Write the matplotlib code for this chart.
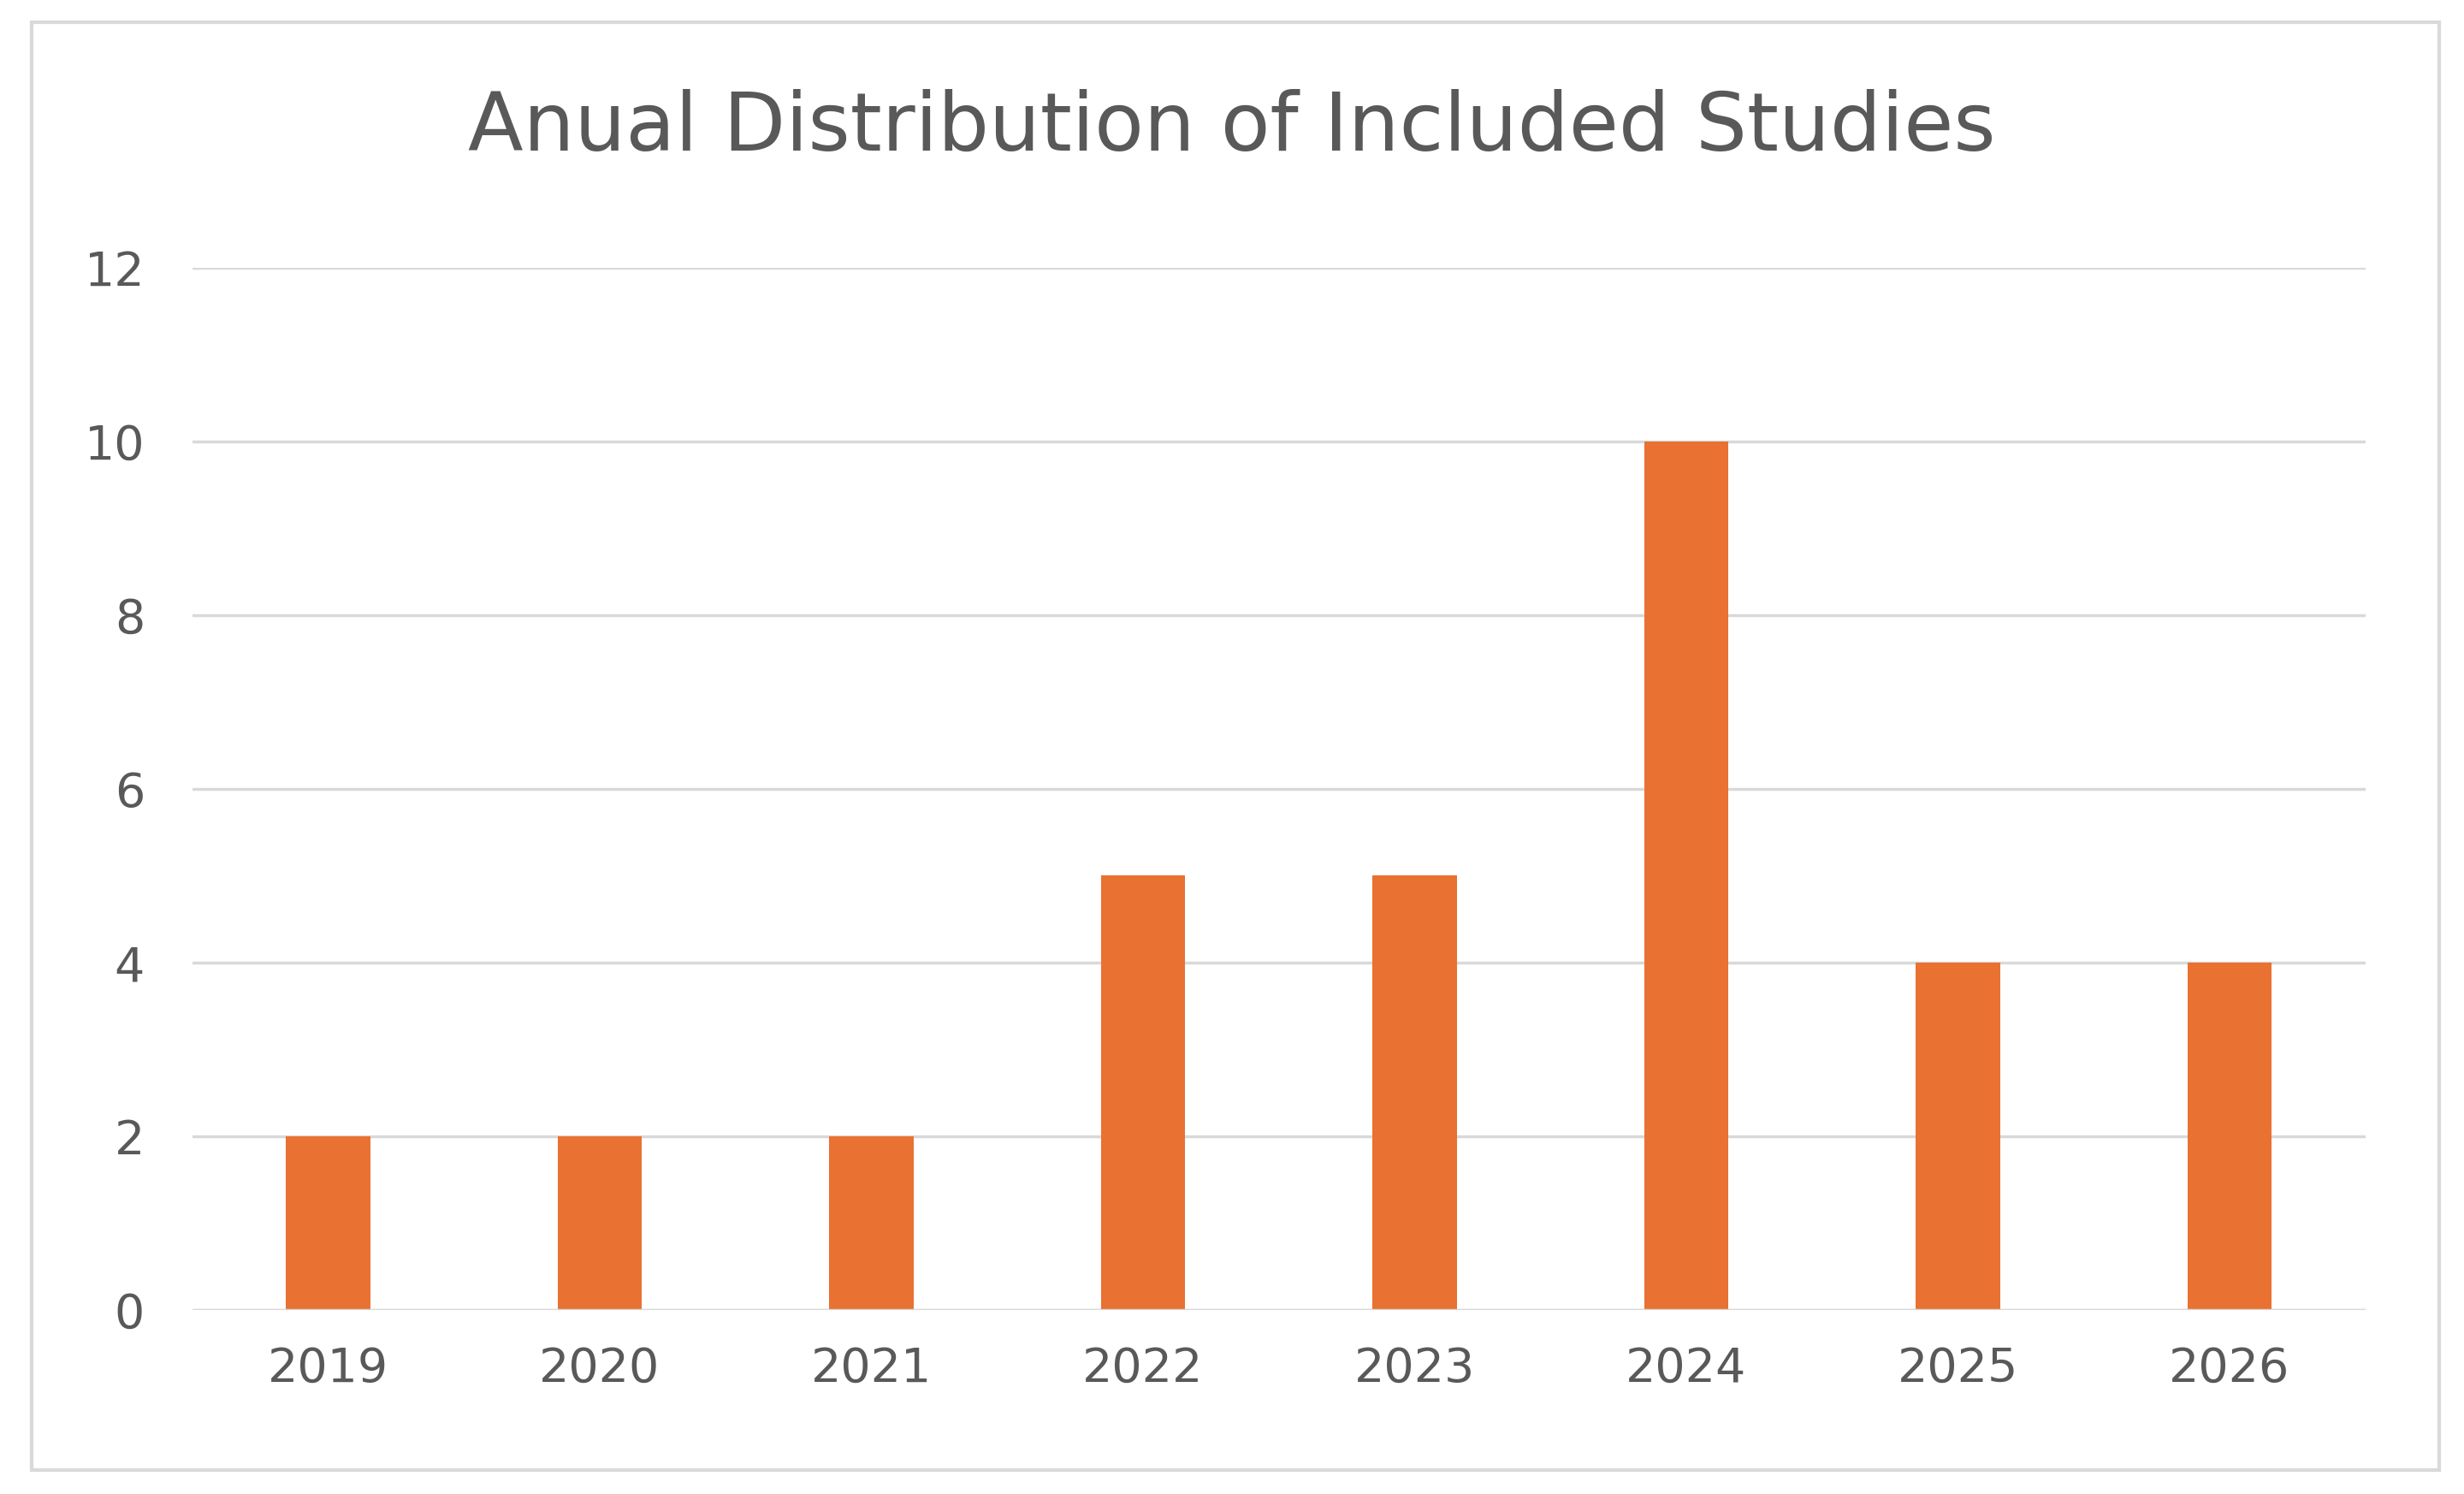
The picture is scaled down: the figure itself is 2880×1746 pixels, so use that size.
import matplotlib.pyplot as plt
from matplotlib.patches import Rectangle

years = ["2019", "2020", "2021", "2022", "2023", "2024", "2025", "2026"]
counts = [2, 2, 2, 5, 5, 10, 4, 4]
yticks = [0, 2, 4, 6, 8, 10, 12]

fig = plt.figure(figsize=(28.8, 17.46), dpi=100)
fig.patches.append(Rectangle((20 / 1568, 1 - 935 / 950), 1532 / 1568, 921 / 950,
                             transform=fig.transFigure, fill=False,
                             edgecolor="#d9d9d9", linewidth=3))
ax = fig.add_axes([0.078, 0.123, 0.882, 0.698])
x = range(len(years))
ax.bar(x, counts, width=0.31, color="#e97132", zorder=3)
ax.set_xlim(-0.5, len(years) - 0.5)
ax.set_ylim(0, 12)
ax.set_yticks(yticks)
ax.set_xticks(list(x))
ax.set_xticklabels(years)
ax.grid(axis="y", color="#d9d9d9", linewidth=2.5, zorder=0)
for s in ax.spines.values():
    s.set_visible(False)
ax.axhline(0, color="#d9d9d9", linewidth=2.5, zorder=4)
ax.tick_params(length=0, labelsize=40, labelcolor="#595959", pad=30)
ax.tick_params(axis="y", pad=40)
fig.text(0.5, 0.914, "Anual Distribution of Included Studies", ha="center", va="center",
         fontsize=68, color="#595959")
fig.savefig("out.png", dpi=100)
